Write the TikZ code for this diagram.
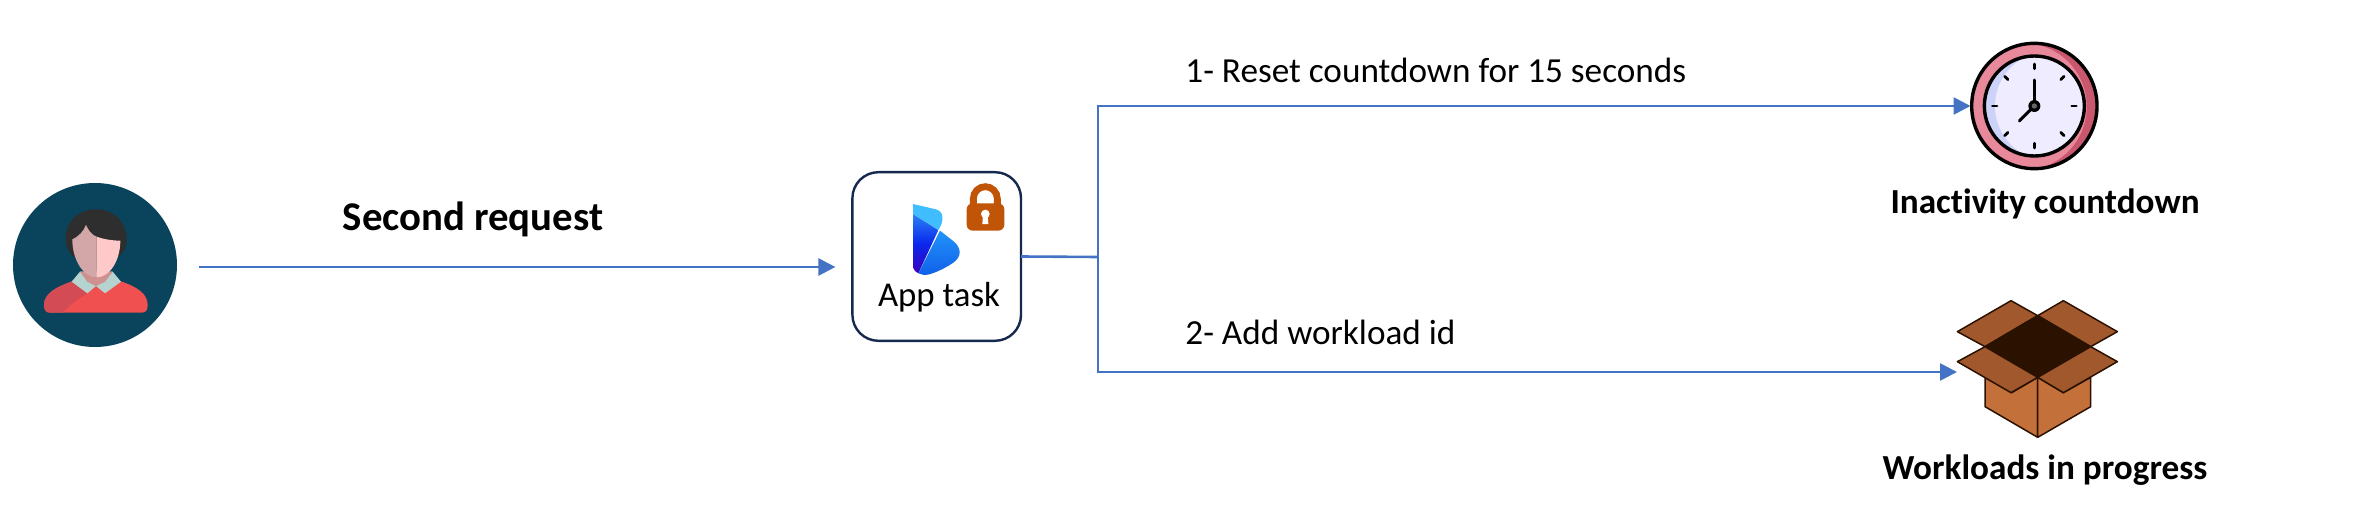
\documentclass[tikz,border=0pt]{standalone}
\usepackage{fontspec}
\setmainfont[Ligatures=CommonOff]{Carlito}
\usetikzlibrary{arrows.meta,calc}
\definecolor{flowblue}{HTML}{4472C4}
\definecolor{navy}{HTML}{15294F}
\definecolor{teal}{HTML}{0A435C}
\definecolor{lockc}{HTML}{C05508}
\definecolor{flap}{HTML}{A0582C}
\definecolor{side}{HTML}{C4703A}
\definecolor{boxdark}{HTML}{2B1200}
\tikzset{
  flow/.style={draw=flowblue,line width=1.3pt},
  flowtip/.style={flow,-{Triangle[length=8.5pt,width=8.5pt]}},
  iconnode/.style={inner sep=0pt,outer sep=0pt},
  caption/.style={font=\fontsize{17.6}{20}\selectfont,inner sep=0pt},
  title/.style={font=\fontsize{17.6}{20}\selectfont\bfseries,inner sep=0pt},
  boxline/.style={draw=boxdark,line width=0.75pt,line join=round},
  zoomA/.style={shift={(0,170)},x=0.16667pt,y=-0.16667pt},
  zoomB/.style={shift={(830,150)},x=0.16667pt,y=-0.16667pt},
  zoomC/.style={shift={(1900,20)},x=0.16667pt,y=-0.16667pt},
  zoomD/.style={shift={(1900,280)},x=0.16667pt,y=-0.16667pt},
}
\begin{document}
\begin{tikzpicture}[x=0.5pt,y=-0.5pt]
\useasboundingbox (0,0) rectangle (2380,518);

% nodes
\node[iconnode,circle,fill=teal,minimum size=82pt] (user) at (95,265) {};
\node[iconnode,draw=navy,line width=1.2pt,fill=white,rounded corners=13pt,minimum width=84.3pt,minimum height=84.3pt] (apptask) at (936.7,256.5) {};
\node[iconnode,circle,minimum size=63.5pt] (clock) at (2034,106) {};
\node[iconnode,minimum width=80.5pt,minimum height=69pt] (box) at (2037.5,369) {};
\coordinate (junction) at (1098,257);

% connectors
\draw[flowtip,shorten <=11pt,shorten >=8.5pt] ([yshift=-1pt]user.east) -- ([yshift=-5.25pt]apptask.west);
\draw[flow] (apptask.east) -- (junction);
\draw[flowtip] (junction) |- (clock.west);
\draw[flowtip] (junction) |- ([yshift=-1.5pt]box.west);

% user icon
\begin{scope}[zoomA]
  \fill[black!82] (197,205) .. controls (197,150) and (240,118) .. (288,118)
     .. controls (340,118) and (380,155) .. (380,208)
     .. controls (380,235) and (370,250) .. (352,262) -- (225,262)
     .. controls (205,250) and (197,230) .. (197,205) -- cycle;
  \fill[fill={rgb,255:red,240;green,80;blue,80}] (132,405)
     .. controls (132,370) and (170,350) .. (220,333) -- (360,333)
     .. controls (410,350) and (443,370) .. (443,405)
     .. controls (443,420) and (438,428) .. (425,428) -- (150,428)
     .. controls (138,428) and (132,420) .. (132,405) -- cycle;
  \fill[fill={rgb,255:red,210;green,75;blue,85}] (132,405)
     .. controls (132,370) and (170,350) .. (220,333) -- (262,370)
     .. controls (235,385) and (210,405) .. (187,428) -- (150,428)
     .. controls (138,428) and (132,420) .. (132,405) -- cycle;
  \fill[fill={rgb,255:red,181;green,211;blue,207}] (240,305) -- (215,335) -- (262,370) -- (288,348) -- (315,370) -- (363,335) -- (338,305) -- cycle;
  \fill[fill={rgb,255:red,207;green,144;blue,144}] (240,305) -- (262,335) -- (288,348) -- (315,335) -- (338,305) -- cycle;
  \fill[fill={rgb,255:red,211;green,167;blue,167}] (290,200) .. controls (275,195) and (265,180) .. (258,165)
     .. controls (250,185) and (235,200) .. (217,208)
     .. controls (217,270) and (250,322) .. (290,322) -- cycle;
  \fill[fill={rgb,255:red,255;green,201;blue,201}] (290,200) .. controls (310,208) and (340,212) .. (361,212)
     .. controls (361,270) and (330,322) .. (290,322) -- cycle;
\end{scope}

% app task icon
\begin{scope}[zoomB]
  \shade[top color={rgb,255:red,42;green,130;blue,245},bottom color={rgb,255:red,60;green,0;blue,190},middle color={rgb,255:red,10;green,40;blue,235}]
     (249,192) -- (325,240) -- (265,370) .. controls (258,366) and (249,360) .. (249,352) -- cycle;
  \shade[top color={rgb,255:red,34;green,148;blue,250},bottom color={rgb,255:red,16;green,96;blue,232}]
     (330,242) -- (372,275) .. controls (395,295) and (395,320) .. (370,338)
     .. controls (340,358) and (315,368) .. (298,373) .. controls (285,376) and (275,375) .. (265,370) -- cycle;
  \fill[fill={rgb,255:red,64;green,189;blue,255}] (249,162) -- (318,178) .. controls (340,184) and (345,210) .. (325,240) -- (249,192) -- cycle;
  % lock
  \draw[lockc,line width=3.4pt] (430,170) -- (430,146) arc[start angle=180,end angle=360,radius=36] -- (502,170);
  \fill[lockc,rounded corners=3pt] (410,160) rectangle (523,242);
  \fill[white] (466,192) circle[radius=13];
  \fill[white] (459,195) -- (473,195) -- (475,222) -- (457,222) -- cycle;
\end{scope}
\node[iconnode,font=\fontsize{17.4}{20}\selectfont] (applabel) at (939,297) {App task};

% clock icon
\begin{scope}[zoomC]
  \fill[fill={rgb,255:red,201;green,88;blue,110}] (403,258) circle[radius=188];
  \begin{scope}
    \clip (403,258) circle[radius=188];
    \fill[fill={rgb,255:red,232;green,137;blue,155}] (369.5,260) circle[radius=190.5];
  \end{scope}
  \fill[fill={rgb,255:red,205;green,211;blue,248}] (403,258) circle[radius=150];
  \begin{scope}
    \clip (403,258) circle[radius=150];
    \fill[fill={rgb,255:red,238;green,236;blue,254}] (449,258) circle[radius=164];
  \end{scope}
  \draw[black,line width=1.7pt] (403,258) circle[radius=188];
  \draw[black,line width=1.7pt] (403,258) circle[radius=150];
  \foreach \a in {0,45,...,315}{
    \draw[black,line width=1.35pt,line cap=round] ($(403,258)+(\a:112)$) -- ($(403,258)+(\a:126)$);
  }
  \draw[black,line width=1.5pt,line cap=round] (403,258) -- (403,180);
  \draw[black,line width=1.5pt,line cap=round] (403,258) -- (358,303);
  \fill[black] (403,258) circle[radius=18];
  \fill[black!60] (403,258) circle[radius=8];
\end{scope}

% box icon
\begin{scope}[zoomD]
  \filldraw[boxline,fill=flap] (172,155) -- (333,62) -- (413,107) -- (255,200) -- cycle;
  \filldraw[boxline,fill=flap] (413,107) -- (490,62) -- (652,155) -- (572,200) -- cycle;
  \filldraw[boxline,fill=boxdark] (413,107) -- (572,200) -- (413,292) -- (255,200) -- cycle;
  \filldraw[boxline,fill=side] (255,292) -- (335,338) -- (413,292) -- (413,472) -- (255,380) -- cycle;
  \filldraw[boxline,fill=side] (413,292) -- (490,338) -- (572,292) -- (572,380) -- (413,472) -- cycle;
  \filldraw[boxline,fill=flap] (172,245) -- (255,200) -- (413,292) -- (333,338) -- cycle;
  \filldraw[boxline,fill=flap] (413,292) -- (572,200) -- (652,245) -- (490,338) -- cycle;
\end{scope}

% texts
\node[title,font=\fontsize{20.4}{23}\selectfont\bfseries] (reqlabel) at (473,219) {Second request};
\node[caption,anchor=west] (resetlabel) at (1185,70) {1- Reset countdown for 15 seconds};
\node[caption,anchor=west] (addlabel) at (1185,332) {2- Add workload id};
\node[title] (clocklabel) at (2045,204) {Inactivity countdown};
\node[title] (boxlabel) at (2045,470) {Workloads in progress};
\end{tikzpicture}
\end{document}
